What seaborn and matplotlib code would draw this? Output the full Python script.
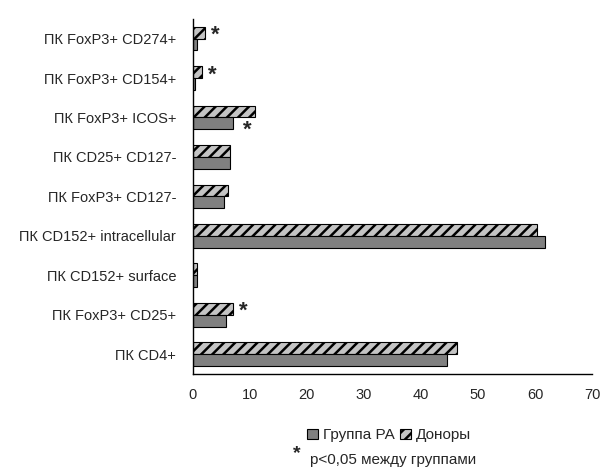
import pandas as pd
import matplotlib.pyplot as plt
import seaborn as sns
from matplotlib.patches import Patch

sns.set_style('white')
plt.rcParams['font.family'] = ['Liberation Sans', 'DejaVu Sans']

# данные (сверху вниз)
categories = ['ПК FoxP3+ CD274+', 'ПК FoxP3+ CD154+', 'ПК FoxP3+ ICOS+',
              'ПК CD25+ CD127-', 'ПК FoxP3+ CD127-', 'ПК CD152+ intracellular',
              'ПК CD152+ surface', 'ПК FoxP3+ CD25+', 'ПК CD4+']
ra_values = [0.7, 0.4, 7.0, 6.5, 5.4, 61.7, 0.7, 5.8, 44.6]
donor_values = [2.1, 1.6, 10.9, 6.5, 6.1, 60.3, 0.7, 7.1, 46.3]
significant = [True, True, True, False, False, False, False, True, False]

df = pd.DataFrame({
    'cat': categories * 2,
    'val': donor_values + ra_values,
    'grp': ['Доноры'] * len(categories) + ['Группа РА'] * len(categories),
})

plt.rcParams['hatch.linewidth'] = 1.8
plt.rcParams['hatch.color'] = '#383838'

fig = plt.figure(figsize=(6.08, 4.71), dpi=100)
ax = fig.add_axes([0.317, 0.206, 0.657, 0.754])

sns.barplot(data=df, x='val', y='cat', hue='grp', order=categories,
            hue_order=['Доноры', 'Группа РА'], orient='h', width=0.6, gap=0,
            palette={'Доноры': '#c4c4c4', 'Группа РА': '#808080'},
            edgecolor='black', linewidth=0.8, errorbar=None, legend=False, ax=ax)

for bar in ax.containers[0]:
    bar.set_hatch('///')

# звёздочки
for i, sig in enumerate(significant):
    if not sig:
        continue
    if categories[i] == 'ПК FoxP3+ ICOS+':
        ax.text(ra_values[i] + 2.5, i + 0.33, '*', fontsize=16, fontweight='bold',
                ha='center', va='center')
    else:
        ax.text(donor_values[i] + 1.8, i - 0.08, '*', fontsize=16, fontweight='bold',
                ha='center', va='center')

ax.set_xlim(0, 70)
ax.set_ylim(len(categories) - 0.5, -0.5)
ax.set_xticks(range(0, 71, 10))
ax.set_yticks(range(len(categories)))
ax.set_yticks([i - 0.5 for i in range(len(categories) + 1)], minor=True)
ax.tick_params(axis='y', which='major', length=0, pad=12, labelsize=10.5)
ax.tick_params(axis='y', which='minor', length=4, width=1, direction='out', color='black')
ax.tick_params(axis='x', length=4, width=1, direction='out', color='black', labelsize=10.5, pad=6)
ax.set_xlabel('')
ax.set_ylabel('')
for s in ['top', 'right']:
    ax.spines[s].set_visible(False)
for s in ['left', 'bottom']:
    ax.spines[s].set_color('black')
    ax.spines[s].set_linewidth(1)

handles = [Patch(facecolor='#808080', edgecolor='black', linewidth=0.8, label='Группа РА'),
           Patch(facecolor='#c4c4c4', edgecolor='black', linewidth=0.8, hatch='///', label='Доноры')]
fig.legend(handles=handles, loc='center', bbox_to_anchor=(0.64, 0.076), ncol=2,
           frameon=False, fontsize=11, handlelength=0.7, handleheight=0.7,
           handletextpad=0.3, columnspacing=0.4)
fig.text(0.488, 0.038, '*', fontsize=14, fontweight='bold', ha='center', va='center')
fig.text(0.647, 0.024, 'p<0,05 между группами', fontsize=11, ha='center', va='center')

plt.savefig('out.png', dpi=100, facecolor='white')
